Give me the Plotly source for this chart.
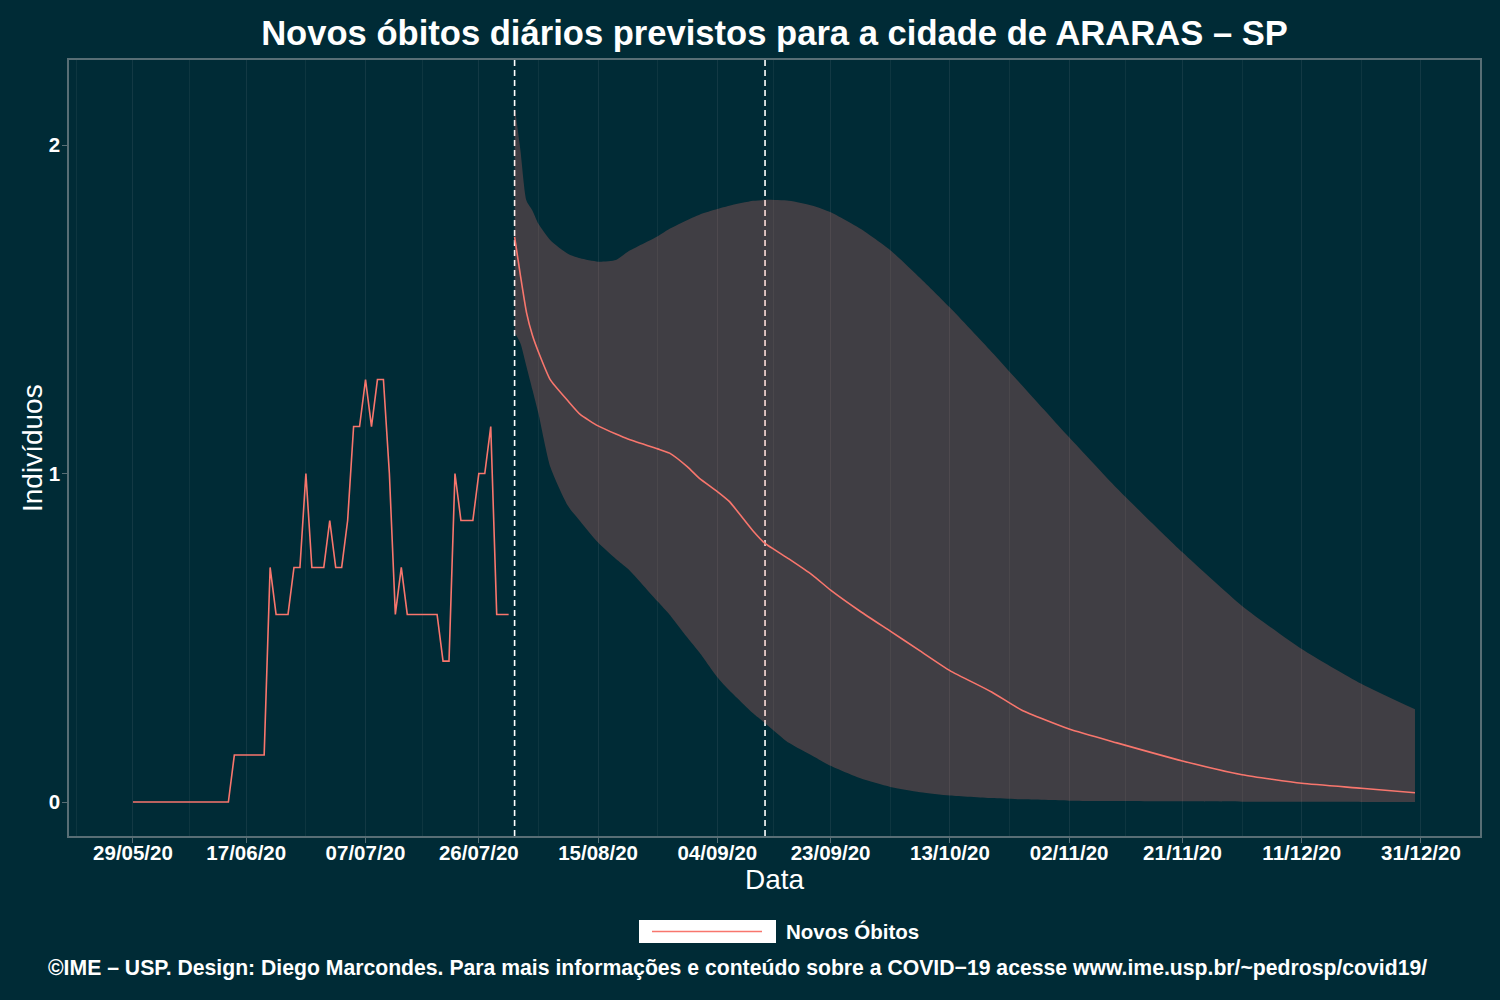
import pandas as pd
import plotly.graph_objects as go

# ---------------- data ----------------
obs_start = "2020-05-29"
obs_values = [0, 0, 0, 0, 0, 0, 0, 0, 0, 0, 0, 0, 0, 0, 0, 0, 0,
              0.143, 0.143, 0.143, 0.143, 0.143, 0.143,
              0.714, 0.571, 0.571, 0.571, 0.714, 0.714, 1.0,
              0.714, 0.714, 0.714, 0.857, 0.714, 0.714, 0.857,
              1.143, 1.143, 1.286, 1.143, 1.286, 1.286, 1.0,
              0.571, 0.714, 0.571, 0.571, 0.571, 0.571, 0.571, 0.571,
              0.429, 0.429, 1.0, 0.857, 0.857, 0.857, 1.0, 1.0,
              1.143, 0.571, 0.571, 0.571]
obs_dates = pd.date_range(obs_start, periods=len(obs_values), freq="D")

pred_dates = ["2020-08-01", "2020-08-02", "2020-08-03", "2020-08-04", "2020-08-05",
              "2020-08-07", "2020-08-10", "2020-08-12", "2020-08-15", "2020-08-18",
              "2020-08-20", "2020-08-25", "2020-08-27", "2020-08-30", "2020-09-01",
              "2020-09-04", "2020-09-06", "2020-09-10", "2020-09-12", "2020-09-16",
              "2020-09-20", "2020-09-23", "2020-09-28", "2020-10-03", "2020-10-08",
              "2020-10-13", "2020-10-20", "2020-10-25", "2020-11-02", "2020-11-10",
              "2020-11-21", "2020-12-01", "2020-12-11", "2020-12-21", "2020-12-30"]
pred_mean = [1.72, 1.60, 1.49, 1.42, 1.37,
             1.285, 1.22, 1.18, 1.145, 1.12,
             1.105, 1.075, 1.062, 1.02, 0.985,
             0.945, 0.915, 0.825, 0.787, 0.74,
             0.69, 0.645, 0.58, 0.52, 0.46,
             0.40, 0.335, 0.28, 0.222, 0.18,
             0.125, 0.083, 0.057, 0.042, 0.028]
pred_upper = [2.12, 1.98, 1.83, 1.80, 1.76,
              1.71, 1.668, 1.655, 1.645, 1.65,
              1.675, 1.722, 1.745, 1.772, 1.788,
              1.805, 1.815, 1.83, 1.833, 1.83,
              1.815, 1.795, 1.745, 1.68, 1.595,
              1.505, 1.37, 1.27, 1.11, 0.955,
              0.76, 0.597, 0.466, 0.36, 0.282]
pred_lower = [1.43, 1.395, 1.325, 1.254, 1.183,
              1.02, 0.90, 0.855, 0.79, 0.74,
              0.71, 0.61, 0.57, 0.50, 0.455,
              0.38, 0.34, 0.27, 0.24, 0.18,
              0.14, 0.11, 0.072, 0.046, 0.03,
              0.02, 0.012, 0.008, 0.004, 0.003,
              0.002, 0.001, 0.0005, 0.0003, 0.0002]

event_dates = ["2020-08-01", "2020-09-12"]

tick_dates = ["2020-05-29", "2020-06-17", "2020-07-07", "2020-07-26", "2020-08-15",
              "2020-09-04", "2020-09-23", "2020-10-13", "2020-11-02", "2020-11-21",
              "2020-12-11", "2020-12-31"]
tick_labels = ["29/05/20", "17/06/20", "07/07/20", "26/07/20", "15/08/20", "04/09/20",
               "23/09/20", "13/10/20", "02/11/20", "21/11/20", "11/12/20", "31/12/20"]
y_ticks = [0, 1, 2]

# ---------------- style ----------------
BG = "#002b36"
FRAME = "#586e75"
LINE = "#F8766D"
BAND = "rgba(248,118,109,0.26)"
FONT = "Liberation Sans, Arial, sans-serif"

td = pd.to_datetime(pd.Series(tick_dates))
mids = list(td.iloc[:-1].reset_index(drop=True) + (td.diff().iloc[1:].reset_index(drop=True) / 2))
minor_vals = [td.iloc[0] - (td.iloc[1] - td.iloc[0]) / 2] + mids + [td.iloc[-1] + (td.iloc[-1] - td.iloc[-2]) / 2]

fig = go.Figure()

fig.add_trace(go.Scatter(x=pred_dates, y=pred_lower, mode="lines",
                         line=dict(width=0, color=BAND, shape="spline", smoothing=0.6),
                         showlegend=False, hoverinfo="skip"))
fig.add_trace(go.Scatter(x=pred_dates, y=pred_upper, mode="lines", fill="tonexty",
                         fillcolor=BAND, line=dict(width=0, color=BAND, shape="spline", smoothing=0.6),
                         showlegend=False, hoverinfo="skip"))
fig.add_trace(go.Scatter(x=obs_dates, y=obs_values, mode="lines",
                         line=dict(color=LINE, width=1.6), name="Novos Óbitos", showlegend=False))
fig.add_trace(go.Scatter(x=pred_dates, y=pred_mean, mode="lines",
                         line=dict(color=LINE, width=1.6, shape="spline", smoothing=0.5),
                         name="Novos Óbitos", showlegend=False))

for d in event_dates:
    fig.add_shape(type="line", xref="x", yref="paper", x0=d, x1=d, y0=0, y1=1,
                  line=dict(color="white", width=1.6, dash="6px,4px"), layer="below")

# custom legend (ggplot style key with white background)
PL, PR, PT, PB = 69, 1480, 60, 836
def px(xp):
    return (xp - PL) / (PR - PL)
def py(yp):
    return (PB - yp) / (PB - PT)

fig.add_shape(type="rect", xref="paper", yref="paper", x0=px(639), x1=px(776),
              y0=py(943), y1=py(920), fillcolor="white", line=dict(width=0), layer="above")
fig.add_shape(type="line", xref="paper", yref="paper", x0=px(652), x1=px(762),
              y0=py(931.5), y1=py(931.5), line=dict(color=LINE, width=1.6), layer="above")
fig.add_annotation(xref="paper", yref="paper", x=px(784), y=py(931.5), xanchor="left",
                   yanchor="middle", text="<b>Novos Óbitos</b>", showarrow=False,
                   font=dict(family=FONT, size=20.5, color="white"))

fig.add_annotation(xref="paper", yref="paper", x=px(737.5), y=py(968), xanchor="center",
                   yanchor="middle", showarrow=False,
                   text="<b>©IME – USP. Design: Diego Marcondes. Para mais informações e conteúdo sobre a COVID−19 acesse www.ime.usp.br/~pedrosp/covid19/</b>",
                   font=dict(family=FONT, size=21.2, color="white"))

# y-axis title placed like ggplot
fig.add_annotation(xref="paper", yref="paper", x=px(32), y=py(448), xanchor="center",
                   yanchor="middle", showarrow=False, textangle=-90, text="Indivíduos",
                   font=dict(family=FONT, size=28, color="white"))

fig.update_layout(
    width=1500, height=1000,
    paper_bgcolor=BG, plot_bgcolor=BG,
    margin=dict(l=PL, r=1500 - PR, t=PT, b=1000 - PB),
    title=dict(text="<b>Novos óbitos diários previstos para a cidade de ARARAS – SP</b>",
               x=0.5, xref="paper", xanchor="center", y=0.967, yanchor="middle",
               font=dict(family=FONT, size=34.6, color="white")),
    font=dict(family=FONT, color="white"),
    showlegend=False,
)

fig.update_xaxes(
    type="date",
    range=["2020-05-18 06:30", "2021-01-09 21:40"],
    tickmode="array", tickvals=tick_dates, ticktext=["<b>" + t + "</b>" for t in tick_labels],
    tickfont=dict(family=FONT, size=20.5, color="white"),
    ticks="outside", ticklen=5, tickcolor=FRAME, tickwidth=1.2,
    ticklabelstandoff=-7,
    showgrid=True, gridcolor="rgba(88,110,117,0.22)", gridwidth=1,
    minor=dict(tickmode="array", tickvals=minor_vals, showgrid=True,
               gridcolor="rgba(88,110,117,0.16)", gridwidth=1, ticks=""),
    showline=True, linecolor=FRAME, linewidth=1.5, mirror=True,
    zeroline=False,
    title=dict(text="Data", font=dict(family=FONT, size=28, color="white"), standoff=2),
)
fig.update_yaxes(
    range=[-0.1035, 2.2588],
    tickmode="array", tickvals=y_ticks, ticktext=["<b>%d</b>" % v for v in y_ticks],
    tickfont=dict(family=FONT, size=20.5, color="white"),
    ticks="outside", ticklen=5, tickcolor=FRAME, tickwidth=1.2,
    ticklabelstandoff=-2,
    showgrid=False, zeroline=False,
    showline=True, linecolor=FRAME, linewidth=1.5, mirror=True,
)

fig.write_html("out.html", config={"displayModeBar": False},
               post_script="document.body.style.margin='0';document.body.style.overflow='hidden';")
